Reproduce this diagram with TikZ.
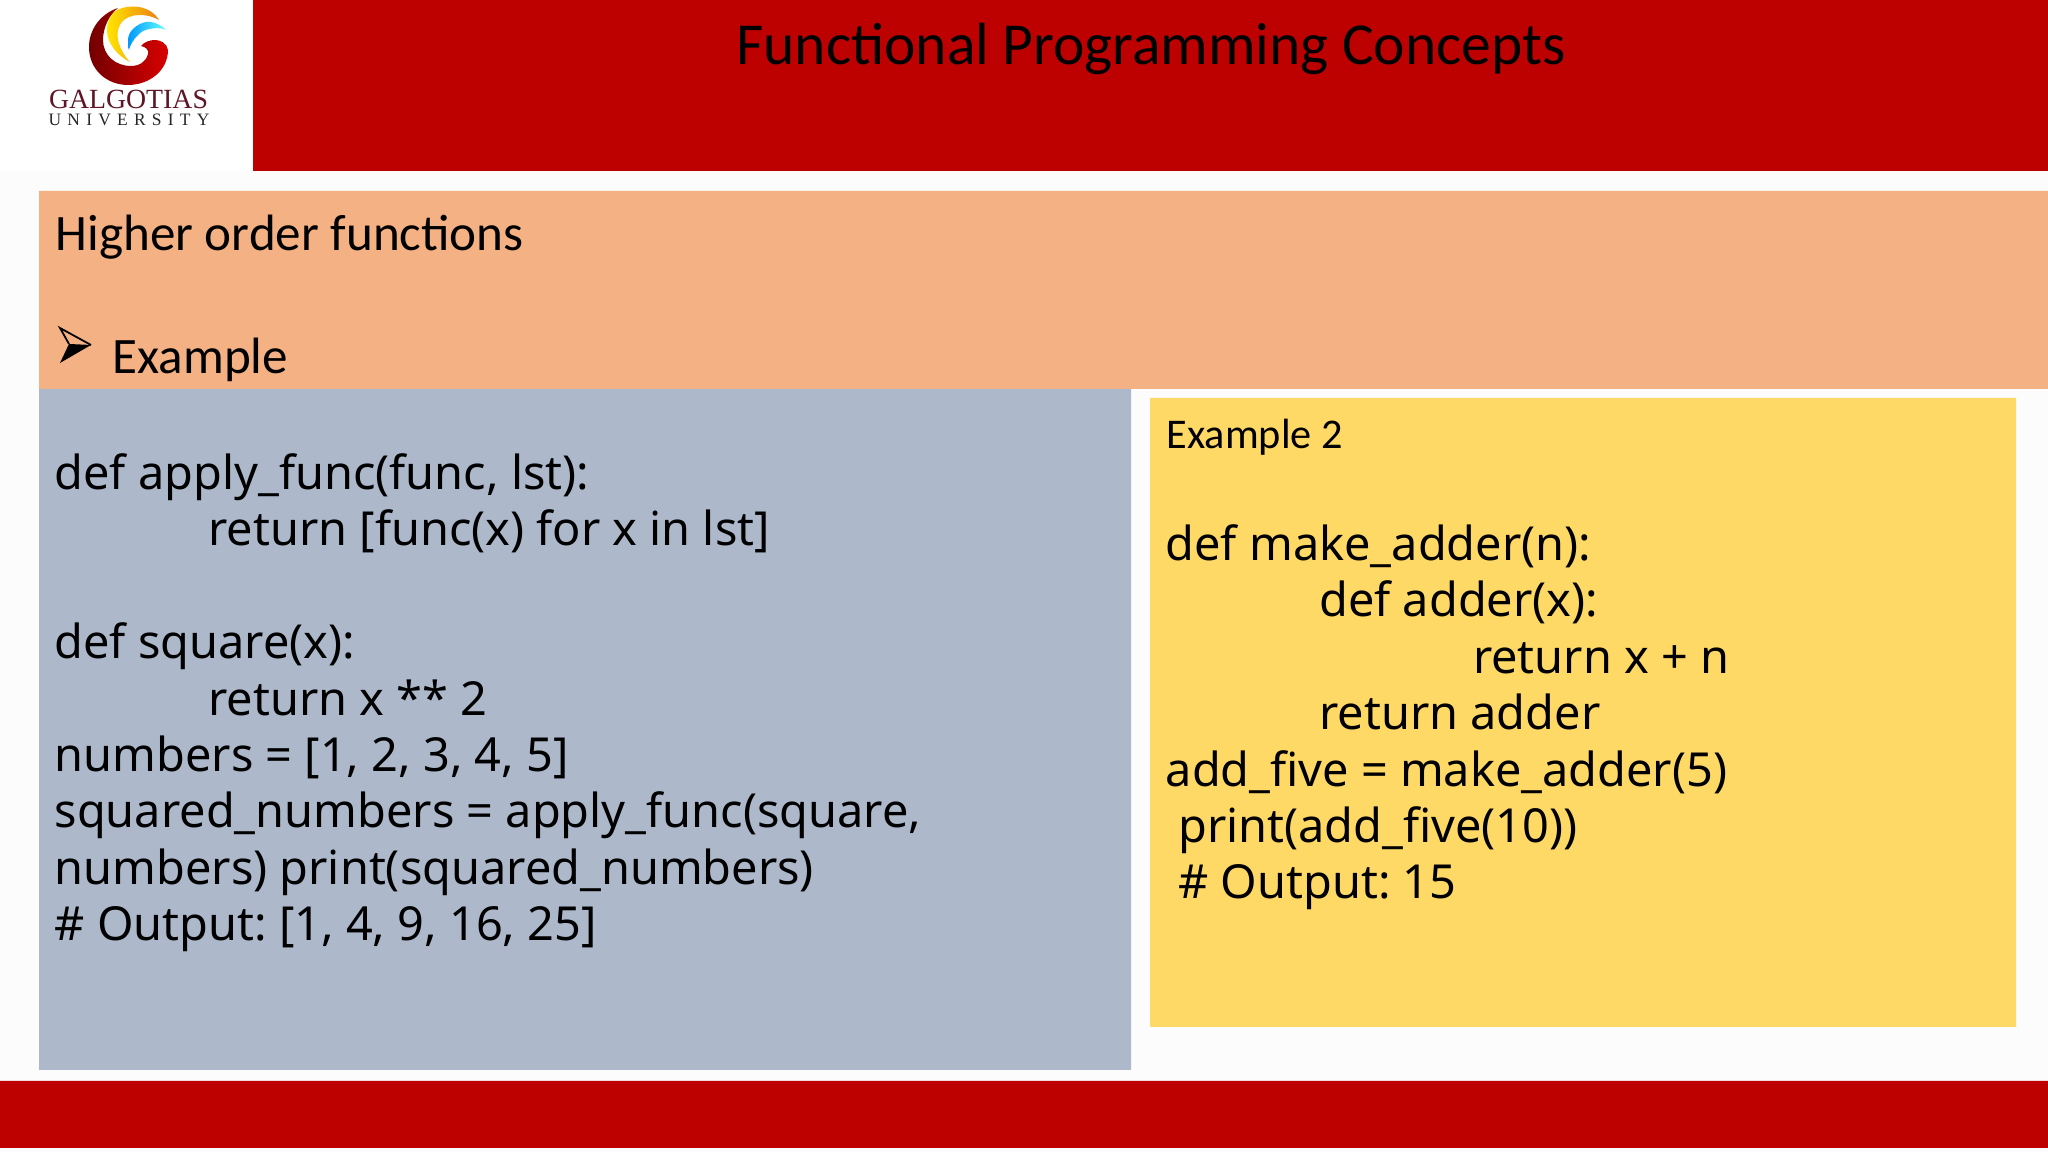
\documentclass[tikz,border=0pt]{standalone}
\usepackage{fontspec}
\usepackage{tkz-euclide}
\setmainfont{Carlito}
\newfontfamily\codefont{Noto Sans}
\newfontfamily\logofont{Liberation Serif}
\newfontfamily\logowide[LetterSpace=36]{Liberation Serif}
\definecolor{barred}{HTML}{BD0000}
\definecolor{headorange}{HTML}{F4B183}
\definecolor{codeblue}{HTML}{ADB9CA}
\definecolor{codeyellow}{HTML}{FFD966}
\definecolor{pagegrey}{HTML}{FCFCFD}
\definecolor{logomaroon}{HTML}{5E1626}
\tikzset{
  codetext/.style={anchor=north west,align=left,inner sep=0pt,text=black,
    font=\codefont\fontsize{13.33}{16.03}\selectfont},
  headtext/.style={anchor=base west,inner sep=0pt,text=black,
    font=\fontsize{14.53}{17}\selectfont},
}
\newcommand{\indentcode}{\hspace*{43.7pt}}
\frenchspacing
\begin{document}
\begin{tikzpicture}[x=.01cm,y=.01cm]
\useasboundingbox (0,0) rectangle (2048,1152);
\tkzDefPoint(0,0){SW}
\tkzDefPoint(2048,0){SE}
\tkzDefPoint(2048,1152){NE}
\tkzDefPoint(0,1152){NW}
\tkzDefPoint(0,981){BW}
\tkzDefPoint(2048,981){BE}
% page and bars
\tkzFillPolygon[fill = pagegrey](SW,SE,BE,BW)
\tkzFillPolygon[fill = white](BW,BE,NE,NW)
\tkzDefPoint(253,981){A}
\tkzDefPoint(253,1152){B}
\tkzFillPolygon[fill = barred](A,BE,NE,B)
\tkzDefPoint(0,4){C}
\tkzDefPoint(2048,4){D}
\tkzDefPoint(2048,71){E}
\tkzDefPoint(0,71){F}
\tkzFillPolygon[fill = barred](C,D,E,F)
% panels
\tkzDefPoint(39,763){G}
\tkzDefPoint(2048,763){H}
\tkzDefPoint(2048,961){I}
\tkzDefPoint(39,961){J}
\tkzFillPolygon[fill = headorange](G,H,I,J)
\tkzDefPoint(39,82){K}
\tkzDefPoint(1131,82){L}
\tkzDefPoint(1131,763){M}
\tkzFillPolygon[fill = codeblue](K,L,M,G)
\tkzDefPoint(1150,125){N}
\tkzDefPoint(2016,125){O}
\tkzDefPoint(2016,754){P}
\tkzDefPoint(1150,754){Q}
\tkzFillPolygon[fill = codeyellow](N,O,P,Q)
% bullet
\tkzDefPoint(60,824){R}
\tkzDefPoint(91,807){S}
\tkzDefPoint(60,789){T}
\tkzDefPoint(69,808){U}
\fill (S) -- (T) -- (U) -- cycle;
\draw[line width=.5pt] (U) -- (R) -- (S);
% logo
\begin{scope}[shift={(0,1152)},yscale=-1]
\shade[left color=red!45!black,right color=red!85!black]
  (118,8) .. controls (100,14) and (89,30) .. (89,47)
  .. controls (89,70) and (107,85) .. (128,85)
  .. controls (150,85) and (168,70) .. (168,50)
  .. controls (167,43) and (160,40) .. (155,40)
  .. controls (150,40) and (144,42) .. (141,46)
  .. controls (146,47) and (149,50) .. (148,54)
  .. controls (146,62) and (139,66) .. (131,66)
  .. controls (115,66) and (103,55) .. (103,40)
  .. controls (103,28) and (109,15) .. (118,8) -- cycle;
\shade[left color=yellow!80!orange,right color=orange!70!brown]
  (117,10) .. controls (130,4) and (150,5) .. (159,20)
  .. controls (150,15) and (140,14) .. (132,16)
  .. controls (121,19) and (116,28) .. (118,40)
  .. controls (120,48) and (124,56) .. (130,62)
  .. controls (118,56) and (107,44) .. (107,30)
  .. controls (107,22) and (111,14) .. (117,10) -- cycle;
\shade[left color=cyan!60!blue,right color=cyan!60!white]
  (166,30) .. controls (160,24) and (152,21) .. (146,22)
  .. controls (136,24) and (128,32) .. (128,40)
  .. controls (128,44) and (128,48) .. (129,50)
  .. controls (131,42) and (137,35) .. (143,31)
  .. controls (150,28) and (160,27) .. (166,30) -- cycle;
\node[anchor=base,inner sep=0pt,text=logomaroon,font=\logofont\fontsize{7.9}{9}\selectfont]
  (logoname) at (128.5,109) {GALGOTIAS};
\node[anchor=base,inner sep=0pt,text=black!85,font=\logowide\fontsize{4.95}{6}\selectfont]
  (logouni) at (129,126) {UNIVERSITY};
\end{scope}
% text
\node[anchor=base,inner sep=0pt,font=\fontsize{16.93}{20}\selectfont] (title) at (1151,1087) {Functional Programming Concepts};
\node[headtext] (higher) at (55,901) {Higher order functions};
\node[headtext] (example) at (112,778) {Example};
\node[codetext] (codeleft) at (54,699) {%
def apply\_func(func, lst):\\
\indentcode return [func(x) for x in lst]\\
\mbox{}\\
def square(x):\\
\indentcode return x ** 2\\
numbers = [1, 2, 3, 4, 5]\\
squared\_numbers = apply\_func(square,\\
numbers) print(squared\_numbers)\\
\# Output: [1, 4, 9, 16, 25]};
\node[headtext,font=\fontsize{12.03}{14}\selectfont] (exampletwo) at (1166,703) {Example 2};
\node[codetext] (coderight) at (1165,628) {%
def make\_adder(n):\\
\indentcode def adder(x):\\
\indentcode\indentcode return x + n\\
\indentcode return adder\\
add\_five = make\_adder(5)\\
\hspace*{3.6pt}print(add\_five(10))\\
\hspace*{3.6pt}\# Output: 15};
\end{tikzpicture}
\end{document}
